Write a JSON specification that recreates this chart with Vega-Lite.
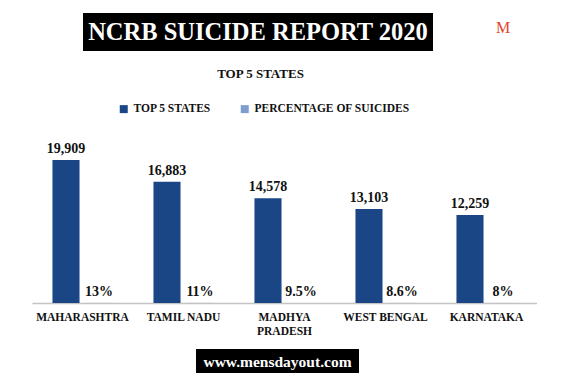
{
  "$schema": "https://vega.github.io/schema/vega-lite/v6.json",
  "padding": {"left": 32, "top": 13, "right": 0, "bottom": 0},
  "background": "white",
  "spacing": 17,
  "config": {"view": {"stroke": null}, "font": "Liberation Serif"},
  "vconcat": [
    {
      "spacing": 0,
      "hconcat": [
        {"width": 51, "height": 38, "data": {"values": [{}]}, "mark": {"type": "point", "opacity": 0}, "encoding": {}},
        {
          "width": 350, "height": 38,
          "view": {"fill": "black", "stroke": null},
          "data": {"values": [{"t": "NCRB SUICIDE REPORT 2020"}]},
          "mark": {"type": "text", "color": "white", "font": "Liberation Serif", "fontWeight": "bold", "fontSize": 24.5, "baseline": "middle", "dy": 1},
          "encoding": {"text": {"field": "t"}}
        },
        {"width": 50, "height": 38, "data": {"values": [{}]}, "mark": {"type": "point", "opacity": 0}, "encoding": {}},
        {
          "width": 40, "height": 38,
          "data": {"values": [{"t": "M"}]},
          "mark": {"type": "text", "color": "#e2452b", "font": "Liberation Serif", "fontSize": 16, "baseline": "middle", "dx": 0, "dy": -4},
          "encoding": {"text": {"field": "t"}}
        }
      ]
    },
    {
      "spacing": 12,
      "vconcat": [
        {
          "width": 505,
          "height": 158,
          "title": {"text": "TOP 5 STATES", "font": "Liberation Serif", "fontWeight": "bold", "fontSize": 13, "color": "#111", "dx": -24, "offset": 61},
          "data": {"values": [
            {"state": "MAHARASHTRA", "series": "TOP 5 STATES", "value": 19909, "label": "19,909"},
            {"state": "MAHARASHTRA", "series": "PERCENTAGE OF SUICIDES", "value": 13, "label": "13%"},
            {"state": "TAMIL NADU", "series": "TOP 5 STATES", "value": 16883, "label": "16,883"},
            {"state": "TAMIL NADU", "series": "PERCENTAGE OF SUICIDES", "value": 11, "label": "11%"},
            {"state": "MADHYA PRADESH", "series": "TOP 5 STATES", "value": 14578, "label": "14,578"},
            {"state": "MADHYA PRADESH", "series": "PERCENTAGE OF SUICIDES", "value": 9.5, "label": "9.5%"},
            {"state": "WEST BENGAL", "series": "TOP 5 STATES", "value": 13103, "label": "13,103"},
            {"state": "WEST BENGAL", "series": "PERCENTAGE OF SUICIDES", "value": 8.6, "label": "8.6%"},
            {"state": "KARNATAKA", "series": "TOP 5 STATES", "value": 12259, "label": "12,259"},
            {"state": "KARNATAKA", "series": "PERCENTAGE OF SUICIDES", "value": 8, "label": "8%"}
          ]},
          "encoding": {
            "x": {
              "field": "state", "type": "nominal", "sort": null,
              "scale": {"paddingInner": 0, "paddingOuter": 0},
              "axis": {
                "title": null, "ticks": false, "labelAngle": 0,
                "domainColor": "#c4c4c4", "domainWidth": 1.5,
                "labelFont": "Liberation Serif", "labelFontWeight": "bold", "labelFontSize": 11.5, "labelColor": "#111",
                "labelPadding": 8, "labelLineHeight": 14, "labelLimit": 200,
                "labelExpr": "datum.value == 'MADHYA PRADESH' ? ['MADHYA', 'PRADESH'] : datum.value"
              }
            },
            "xOffset": {
              "field": "series", "type": "nominal",
              "scale": {"domain": ["TOP 5 STATES", "PERCENTAGE OF SUICIDES"], "paddingInner": 0.18, "paddingOuter": 0.62}
            },
            "y": {
              "field": "value", "type": "quantitative",
              "scale": {"domain": [0, 22000]},
              "axis": null
            }
          },
          "layer": [
            {
              "mark": {"type": "bar"},
              "encoding": {
                "color": {
                  "field": "series", "type": "nominal",
                  "scale": {"domain": ["TOP 5 STATES", "PERCENTAGE OF SUICIDES"], "range": ["#1b4686", "#7d9dd0"]},
                  "legend": {
                    "title": null, "orient": "none", "direction": "horizontal",
                    "legendX": 86, "legendY": 90,
                    "symbolType": "square", "symbolSize": 64, "symbolStrokeWidth": 0,
                    "labelFont": "Liberation Serif", "labelFontWeight": "bold", "labelFontSize": 11.5, "labelColor": "#111",
                    "labelOffset": 4, "columnPadding": 28, "labelLimit": 300
                  }
                }
              }
            },
            {
              "mark": {"type": "text", "baseline": "alphabetic", "dy": -7, "font": "Liberation Serif", "fontWeight": "bold", "fontSize": 14, "color": "#111"},
              "encoding": {"text": {"field": "label"}}
            }
          ]
        },
        {
          "spacing": 0,
          "hconcat": [
            {"width": 164, "height": 24, "data": {"values": [{}]}, "mark": {"type": "point", "opacity": 0}, "encoding": {}},
            {
              "width": 163, "height": 24,
              "view": {"fill": "black", "stroke": null},
              "data": {"values": [{"t": "www.mensdayout.com"}]},
              "mark": {"type": "text", "color": "white", "font": "Liberation Serif", "fontWeight": "bold", "fontSize": 15.5, "baseline": "middle", "dy": 1},
              "encoding": {"text": {"field": "t"}}
            }
          ]
        }
      ]
    }
  ]
}
